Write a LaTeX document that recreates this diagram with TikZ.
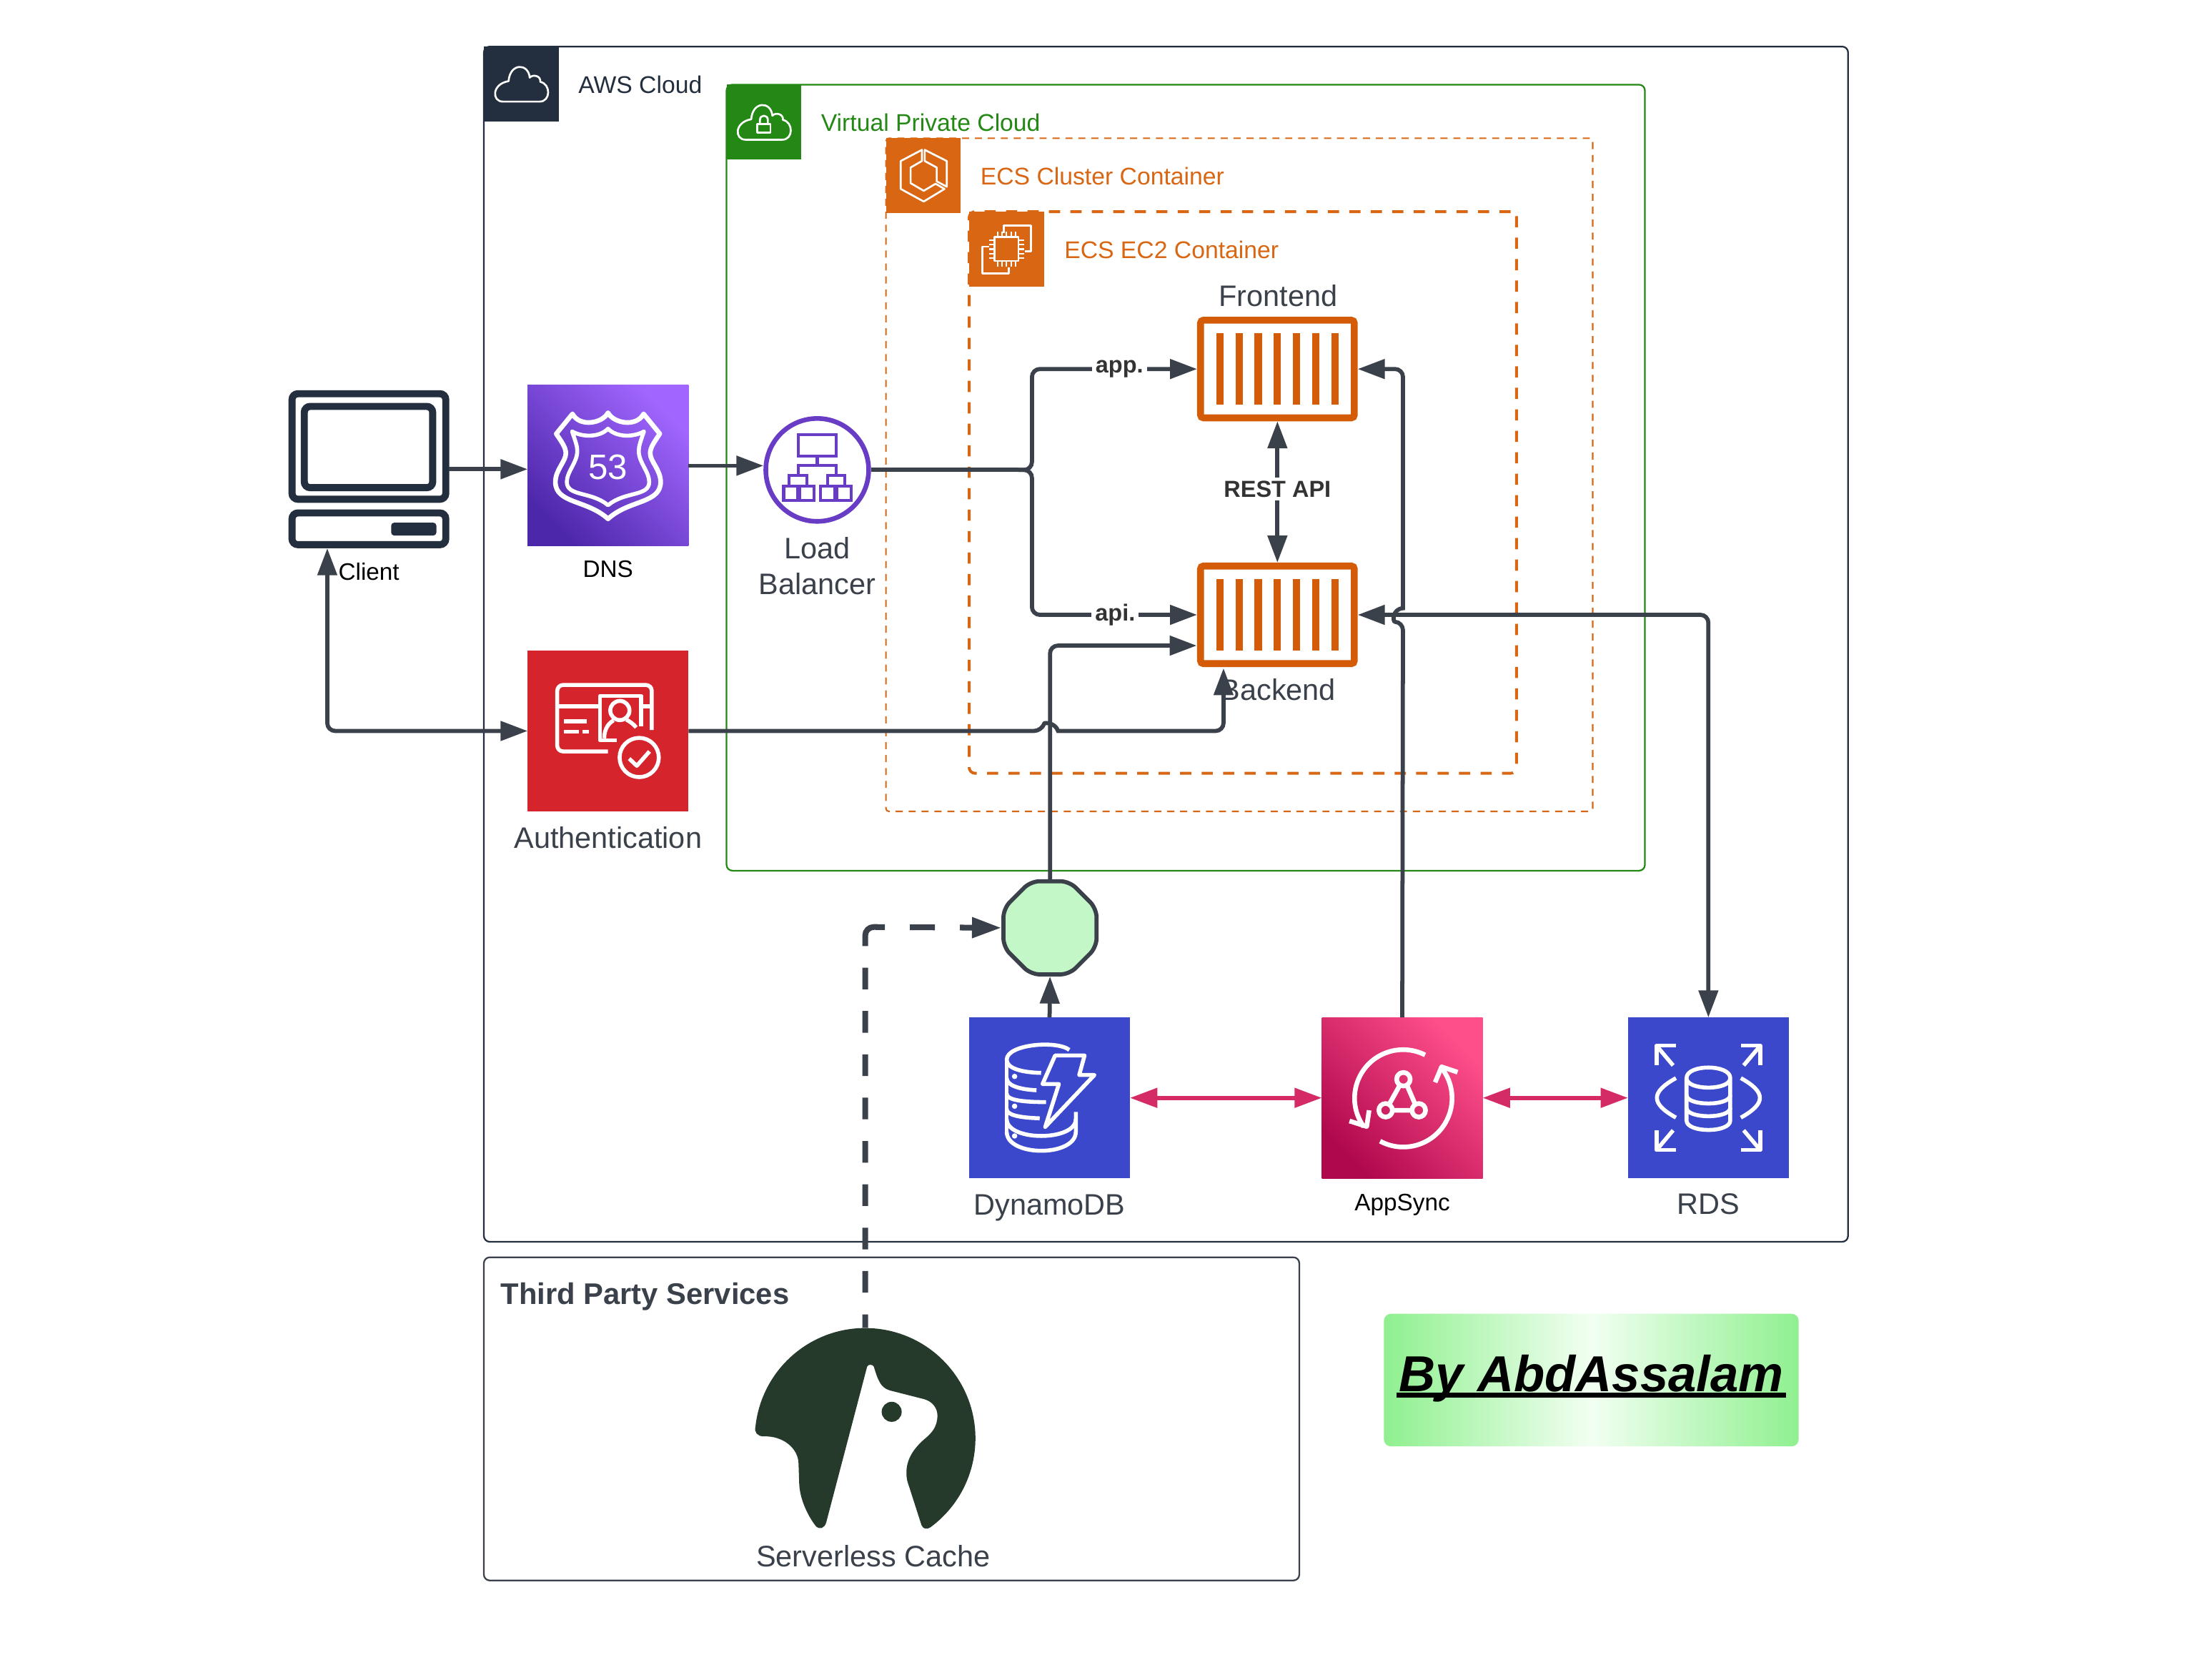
\documentclass[tikz,border=0pt]{standalone}
\usepackage{fontspec}
\setmainfont{Liberation Sans}
\usetikzlibrary{arrows.meta,shapes.geometric}
\definecolor{ink}{HTML}{3A414A}
\definecolor{awsdark}{HTML}{232F3E}
\definecolor{vpcg}{HTML}{248814}
\definecolor{ecso}{HTML}{D86613}
\definecolor{cono}{HTML}{D45B07}
\definecolor{lbp}{HTML}{693CC5}
\definecolor{dbblue}{HTML}{3B48CC}
\definecolor{authred}{HTML}{D6242D}
\definecolor{pinkline}{HTML}{D42B66}
\definecolor{octg}{HTML}{C3F7C8}
\definecolor{logog}{HTML}{253A2B}
\definecolor{byg}{HTML}{8FF08F}
\definecolor{byw}{HTML}{F2FFF2}
\definecolor{dnshi}{HTML}{A166FF}
\definecolor{dnslo}{HTML}{4D27AA}
\definecolor{synchi}{HTML}{FF4F8B}
\definecolor{synclo}{HTML}{B0084D}
\definecolor{boldink}{HTML}{333333}
\tikzset{
 sz/.style 2 args={minimum width=#1*0.48pt,minimum height=#2*0.48pt},
 lab/.style={inner sep=0,outer sep=0,font=\fontsize{10.08pt}{12.2pt}\selectfont,text=ink,align=center},
 smalllab/.style={inner sep=0,outer sep=0,font=\fontsize{8.1pt}{10pt}\selectfont,text=black},
 grouplab/.style={inner sep=0,outer sep=0,anchor=west,font=\fontsize{8.2pt}{10pt}\selectfont},
 boldlab/.style={inner sep=1.2pt,outer sep=0,fill=white,font=\fontsize{7.9pt}{10pt}\bfseries\selectfont,text=boldink},
 group/.style={draw,rounded corners=2pt,inner sep=0,outer sep=0},
 gtile/.style={inner sep=0,outer sep=0,minimum size=25.44pt},
 tile/.style={inner sep=0,outer sep=0,minimum size=54.72pt},
 ico/.style={draw=white,line width=1.35pt,line join=round},
 thinico/.style={draw=white,line width=0.65pt,line join=round},
 box/.style={draw=cono,fill=white,line width=2.35pt,rounded corners=1pt,inner sep=0,minimum width=52.3pt,minimum height=33.2pt},
 bar/.style={fill=cono},
 conn/.style={draw=ink,line width=1.4pt,rounded corners=2.7pt,-{Triangle[length=9.2pt,width=6.5pt]}},
 conn2/.style={draw=ink,line width=1.4pt,rounded corners=2.7pt,{Triangle[length=9.2pt,width=6.5pt]}-{Triangle[length=9.2pt,width=6.5pt]}},
 pink/.style={draw=pinkline,line width=1.4pt,{Triangle[length=9.3pt,width=6.5pt]}-{Triangle[length=9.3pt,width=6.5pt]}},
 comp/.style={draw=awsdark,fill=white,line width=2.4pt,rounded corners=2pt},
}
\newcommand{\cloudicon}[1][ico]{\draw[#1] (-13,12.5) -- (13,12.5) .. controls (21,12.5) and (21,0) .. (13.5,-1.5) .. controls (14,-6) and (8,-7) .. (6,-4.5) .. controls (5,-15) and (-8,-15) .. (-9,-2) .. controls (-21,0) and (-21,12.5) .. (-13,12.5) -- cycle;}
\newcommand{\bars}{\foreach \dx in {-40.8,-27.2,-13.6,0,13.6,27.2,40.8}{\fill[bar] (\dx-2.6,-25.3) rectangle (\dx+2.6,25.3);}}
\begin{document}
\begin{tikzpicture}[x=0.48pt,y=-0.48pt]
\useasboundingbox (0,0) rectangle (1568,1175.9);
\fill[white] (0,0) rectangle (1568,1175.9);
% groups
\node[group,draw=awsdark,line width=0.55pt,sz={967}{847}] (aws) at (826.5,456.5) {};
\node[group,draw=vpcg,line width=0.55pt,sz={651}{557}] (vpc) at (840.5,338.5) {};
\node[group,draw=ecso,line width=0.5pt,dash pattern=on 2.4pt off 2pt,sz={501}{477},rounded corners=1pt] (cluster) at (878.5,336.5) {};
\node[group,draw=ecso,line width=0.95pt,dash pattern=on 3.8pt off 3.5pt,sz={388}{398}] (ec2) at (881,349) {};
\node[group,draw=ink,line width=0.55pt,sz={578}{229}] (third) at (632,1005.5) {};
% group tiles
\node[gtile,fill=awsdark] (awstile) at (369.5,59.5) {};
\node[gtile,fill=vpcg] (vpctile) at (541.5,86.5) {};
\node[gtile,fill=ecso] (clustertile) at (654.5,124.5) {};
\node[gtile,fill=ecso] (ec2tile) at (713.5,176.5) {};
\begin{scope}[shift={(awstile.center)}]
 \cloudicon[thinico]
\end{scope}
\begin{scope}[shift={(vpctile.center)}]
 \cloudicon[thinico]
 \draw[thinico] (-4.6,1.4) rectangle (4.6,7.5);
 \draw[thinico] (-2.8,1.4) -- (-2.8,-1.5) .. controls (-2.8,-5.5) and (2.8,-5.5) .. (2.8,-1.5) -- (2.8,1.4);
\end{scope}
\begin{scope}[shift={(clustertile.center)}]
 \draw[thinico] (-1,-18.3) -- (-16,-10.4) -- (-16,9.4) -- (0.3,18.3) -- (15,9.4) -- (8.7,5.7) -- (0.3,10.7) -- (-9,5.3) -- (-9,-5.8) -- (-1,-10.4) -- cycle;
 \draw[thinico] (1,-18.3) -- (16.6,-10.4) -- (16.6,7.8) -- (9.5,4) -- (9.5,-5.8) -- (1,-10.4) -- cycle;
\end{scope}
\begin{scope}[shift={(ec2tile.center)}]
 \draw[thinico] (-8.5,-8.5) rectangle (8.4,8.4);
 \foreach \t in {-6.4,-3.2,0,3.2,6.4}{
  \draw[white,line width=0.55pt] (\t,-8.5) -- (\t,-12.4) (\t,8.4) -- (\t,12.4);
  \draw[white,line width=0.55pt] (-8.5,\t) -- (-12.4,\t) (8.4,\t) -- (12.4,\t);
 }
 \draw[thinico] (-1.8,-11.4) -- (-1.8,-16.8) -- (17.3,-16.8) -- (17.3,1.6) -- (12.8,1.6);
 \draw[thinico] (-12.4,-1.8) -- (-17,-1.8) -- (-17,17.3) -- (1.6,17.3) -- (1.6,12.8);
\end{scope}
% group labels
\node[grouplab,text=awsdark] (awslab) at (410,60) {AWS Cloud};
\node[grouplab,text=vpcg] (vpclab) at (582,87) {Virtual Private Cloud};
\node[grouplab,text=ecso] (clusterlab) at (695,125) {ECS Cluster Container};
\node[grouplab,text=ecso] (ec2lab) at (754.5,177) {ECS EC2 Container};
\node[inner sep=0,outer sep=0,anchor=west,font=\fontsize{10.15pt}{12pt}\bfseries\selectfont,text=ink] (thirdlab) at (355,919) {Third Party Services};
% client computer
\node[inner sep=0,outer sep=0,sz={113.7}{112}] (client) at (261.5,332.5) {};
\draw[comp] (207,279) rectangle (316,353.8);
\draw[comp] (215.7,288) rectangle (306.7,345.6);
\draw[comp] (207,363.5) rectangle (316,386);
\fill[awsdark,rounded corners=1pt] (277.3,370.4) rectangle (309.3,379.5);
\node[smalllab] (clientlab) at (261.5,405.3) {Client};
% dns
\node[tile,top color=dnshi,bottom color=dnslo,shading angle=-45] (dns) at (431,330) {};
\begin{scope}[shift={(dns.center)}]
 \draw[ico,line width=1.6pt] (0,-37.5) .. controls (-4,-30) and (-20,-27) .. (-25.2,-36.7) -- (-36.7,-22.6) .. controls (-33,-17) and (-29.9,-13) .. (-29.9,-8.8) .. controls (-29.9,-3) and (-37.3,3) .. (-37.3,11.5) .. controls (-37.3,27) and (-15,24) .. (0,37.7) .. controls (15,24) and (37.3,27) .. (37.3,11.5) .. controls (37.3,3) and (29.9,-3) .. (29.9,-8.8) .. controls (29.9,-13) and (33,-17) .. (36.7,-22.6) -- (25.2,-36.7) .. controls (20,-27) and (4,-30) .. (0,-37.5) -- cycle;
 \draw[ico] (0,-26.2) .. controls (-6,-20) and (-18,-20) .. (-25.5,-24.3) .. controls (-23,-17) and (-21.8,-14) .. (-21.8,-10.5) .. controls (-21.8,-2) and (-29.2,4) .. (-29.2,11.5) .. controls (-29.2,22) and (-12,18) .. (0,28) .. controls (12,18) and (29.2,22) .. (29.2,11.5) .. controls (29.2,4) and (21.8,-2) .. (21.8,-10.5) .. controls (21.8,-14) and (23,-17) .. (25.5,-24.3) .. controls (18,-20) and (6,-20) .. (0,-26.2) -- cycle;
 \node[inner sep=0,font=\fontsize{12pt}{12pt}\selectfont,text=white] (fiftythree) at (0,1) {53};
\end{scope}
\node[smalllab] (dnslab) at (431,403.3) {DNS};
% load balancer
\node[circle,draw=lbp,fill=white,line width=1.6pt,minimum size=35pt,inner sep=0] (lb) at (579.3,333) {};
\begin{scope}[shift={(lb.center)},line width=1pt]
 \draw[lbp] (-13.4,-24.9) rectangle (13.4,-9.7);
 \draw[lbp] (0,-9.7) -- (0,-3.4) (-13.4,3.8) -- (-13.4,-3.4) -- (13.4,-3.4) -- (13.4,3.8);
 \draw[lbp] (-19.8,11.3) -- (-19.8,3.8) -- (-7.3,3.8) -- (-7.3,11.3);
 \draw[lbp] (7.4,11.3) -- (7.4,3.8) -- (19.5,3.8) -- (19.5,11.3);
 \draw[lbp] (-23.8,11.3) rectangle (-14,21.5) (-12.2,11.3) rectangle (-2.3,21.5) (2.3,11.3) rectangle (12.5,21.5) (14,11.3) rectangle (24.1,21.5);
\end{scope}
\node[lab] (lblab) at (579.3,401) {Load\\Balancer};
% auth
\node[tile,fill=authred] (auth) at (431,518) {};
\begin{scope}[shift={(auth.center)}]
 \draw[ico,rounded corners=2pt] (0,14.5) -- (-36,14.5) -- (-36,-32.6) -- (31,-32.6) -- (31,-0.7);
 \draw[ico] (-36,-17.6) -- (-6,-17.6);
 \draw[ico] (25,-17.6) -- (31,-17.6);
 \draw[ico] (6.3,6.6) -- (-5.6,6.6) -- (-5.6,-24.8) -- (23.5,-24.8) -- (23.5,-3.2);
 \draw[ico] (8.4,-14.5) circle (6.8);
 \draw[ico] (-2.7,5.2) .. controls (-2.7,-2) and (1,-6) .. (4,-7.5);
 \draw[ico] (13,-8) .. controls (15,-7) and (18,-5) .. (20,-2.5);
 \draw[ico] (22.1,18.8) circle (13.9);
 \draw[ico] (15,19.6) -- (20.4,24.7) -- (29.4,14.5);
 \draw[ico] (-31.4,-6.9) -- (-15,-6.9) (-31.4,0.5) -- (-20.8,0.5) (-18,0.5) -- (-13.3,0.5);
\end{scope}
\node[lab] (authlab) at (431,593.5) {Authentication};
% containers
\node[box] (frontend) at (905.5,261.5) {};
\begin{scope}[shift={(frontend.center)}]\bars\end{scope}
\node[box] (backend) at (905.5,435.7) {};
\begin{scope}[shift={(backend.center)}]\bars\end{scope}
\node[lab] (frontlab) at (906,209.8) {Frontend};
\node[lab] (backlab) at (906,488.7) {Backend};
% lower services
\node[regular polygon,regular polygon sides=8,draw=ink,fill=octg,line width=1.4pt,rounded corners=3pt,minimum size=34.3pt,inner sep=0] (oct) at (744.3,657.5) {};
\node[tile,fill=dbblue] (dynamo) at (744,778) {};
\begin{scope}[shift={(dynamo.center)}]
 \draw[ico] (14,-34) .. controls (5,-41) and (-30.4,-38) .. (-30.4,-27) .. controls (-30.4,-21) and (-20,-18) .. (-6,-17.7);
 \draw[ico] (-30.4,-27) -- (-30.4,26);
 \draw[ico] (-30.4,-14) .. controls (-30.4,-9) and (-22,-6) .. (-9.3,-5.4);
 \draw[ico] (-30.4,-3) .. controls (-30.4,1) and (-22,3) .. (-2.5,3);
 \draw[ico] (-30.4,8) .. controls (-30.4,12) and (-22,14) .. (-7,14.5);
 \draw[ico] (-30.4,24) .. controls (-30.4,42) and (18.6,42) .. (18.6,24) -- (18.6,10);
 \draw[ico] (-30.4,15) .. controls (-30.4,31) and (18.6,31) .. (18.6,15);
 \fill[white] (-24.8,-15.2) circle (1.9) (-24.8,5.9) circle (1.9) (-24.8,27) circle (1.9);
 \draw[ico,fill=dbblue] (3.9,-30) -- (24.8,-30) -- (21,-16.2) -- (31.8,-16.2) -- (-3.1,20.6) -- (6.6,-9.8) -- (-5,-9.8) -- cycle;
\end{scope}
\node[lab] (dynamolab) at (744,855.7) {DynamoDB};
\node[tile,top color=synchi,bottom color=synclo,shading angle=-45] (appsync) at (994,778) {};
\begin{scope}[shift={(appsync.center)}]
 \draw[ico,line width=1.6pt] (16.2,-30.4) arc[start angle=-63,end angle=-216,radius=34.4];
 \draw[ico,line width=1.6pt] (-37.4,16.4) -- (-25.2,20.3) -- (-23.5,8.8);
 \draw[ico,line width=1.6pt] (-15.7,30.7) arc[start angle=118.3,end angle=-39,radius=34.6];
 \draw[ico,line width=1.6pt] (23.3,-11) -- (27.9,-22) -- (39.2,-18.2);
 \draw[ico,line width=1.6pt] (0.8,-13.2) circle (4.8) (-11.8,8.8) circle (4.8) (11.7,8.8) circle (4.8);
 \draw[ico,line width=1.6pt] (-1.7,-9) -- (-9.3,4.6) (3.3,-9) -- (9.2,4.6) (-7,8.8) -- (6.9,8.8);
\end{scope}
\node[smalllab] (appsynclab) at (994,853.6) {AppSync};
\node[tile,fill=dbblue] (rds) at (1211,778) {};
\begin{scope}[shift={(rds.center)}]
 \draw[ico] (-15.5,-14) .. controls (-15.5,-24) and (15.5,-24) .. (15.5,-14) .. controls (15.5,-5) and (-15.5,-5) .. (-15.5,-14) -- (-15.5,16) .. controls (-15.5,25) and (15.5,25) .. (15.5,16) -- (15.5,-14);
 \draw[ico] (-15.5,-2) .. controls (-15.5,6) and (15.5,6) .. (15.5,-2);
 \draw[ico] (-15.5,7) .. controls (-15.5,15) and (15.5,15) .. (15.5,7);
 \draw[ico] (-23,-14) .. controls (-41,-4) and (-41,4) .. (-23,14);
 \draw[ico] (23,-14) .. controls (41,-4) and (41,4) .. (23,14);
 \foreach \sx/\sy in {1/1,-1/1,1/-1,-1/-1}{
  \begin{scope}[xscale=\sx,yscale=\sy]
   \draw[ico] (23,-37) -- (36.8,-37) -- (36.8,-23);
   \draw[ico] (36.8,-37) -- (25,-23);
  \end{scope}
 }
\end{scope}
\node[lab] (rdslab) at (1211,853.5) {RDS};
% connectors
\coordinate (clientport) at (232,388.5);
\coordinate (backbottom) at (867.3,473.5);
\coordinate (backleft) at (848.3,457.5);
\coordinate (split) at (722,333);
\draw[conn] (client.east) -- (client.east -| dns.west);
\draw[conn] (dns.east) -- (dns.east -| lb.west);
\draw[conn2] (clientport) -- (232,518) -- (auth.west);
\draw[conn] (auth.east) -- (738.5,518) [sharp corners] .. controls (740.5,512) and (748,512) .. (750,518) [rounded corners=2.7pt] -- (867.3,518) -- (backbottom);
\draw[conn,-] (lb.east) -- (split);
\draw[conn] (split) -- (731.5,333) -- (731.5,435.7) -- (backend.west);
\draw[conn] (split) -- (731.5,333) -- (731.5,261.5) -- (frontend.west);
\draw[conn] (oct.north) -- (744.3,457.5) -- (backleft);
\draw[conn] (dynamo.north) -- (oct.south);
\draw[conn2] (frontend.south) -- (backend.north);
\draw[conn] (appsync.north) -- (994.5,441) [sharp corners] .. controls (987,440.5) and (987,431.5) .. (994.5,431) [rounded corners=2.7pt] -- (994.5,261.5) -- (frontend.east);
\draw[conn2] (rds.north) -- (1211,435.7) -- (backend.east);
\draw[pink] (dynamo.east) -- (appsync.west);
\draw[pink] (appsync.east) -- (rds.west);
\node[boldlab] (applab) at (793.5,261.5) {app.};
\node[boldlab] (apilab) at (790.5,435.5) {api.};
\node[boldlab] (restlab) at (905.5,346.5) {REST API};
% third party
\coordinate (logotop) at (613.3,941);
\draw[draw=ink,line width=1.95pt,rounded corners=2.9pt,-{Triangle[length=10pt,width=6.7pt]},dash pattern=on 4.6pt off 7.37pt on 7.37pt off 7.37pt on 7.37pt off 7.37pt on 7.37pt off 7.37pt on 7.37pt off 7.37pt on 7.37pt off 7.37pt on 7.37pt off 7.37pt on 7.37pt off 7.37pt on 7.37pt off 7.37pt on 11.9pt off 8.5pt on 8.5pt off 8.5pt on 30pt off 1pt] (logotop) -- (613.3,656.9) -- (oct.west);
\begin{scope}[shift={(506.6,932.1)},x=0.08105pt,y=-0.08105pt]
 \fill[logog] (905,890) arc[start angle=53.8,end angle=-174.1,radius=463]
  .. controls (165,490) and (180,508) .. (205,508)
  .. controls (290,505) and (350,560) .. (352,620)
  -- (355,710)
  .. controls (360,790) and (405,860) .. (425,885)
  .. controls (440,900) and (460,895) .. (468,870)
  -- (640,215)
  .. controls (644,205) and (663,205) .. (668,215)
  .. controls (685,270) and (695,303) .. (735,315)
  -- (880,352)
  .. controls (915,362) and (935,390) .. (935,420)
  .. controls (935,470) and (910,495) .. (880,520)
  .. controls (840,555) and (805,600) .. (805,660)
  .. controls (805,685) and (808,695) .. (815,715)
  -- (868,880)
  .. controls (875,897) and (890,900) .. (905,890) -- cycle;
 \fill[logog] (743,405) circle (42);
\end{scope}
\node[lab] (cachelab) at (619,1102.5) {Serverless Cache};
% signature
\node[draw=none,left color=byg,right color=byg,middle color=byw,rounded corners=2.4pt,sz={294}{94},inner sep=0,outer sep=0] (sign) at (1128,978) {};
\node[inner sep=0,outer sep=0,font=\fontsize{17.2pt}{20pt}\bfseries\itshape\selectfont,text=black] (signtext) at (1128,977) {By AbdAssalam};
\draw[black,line width=1.65pt] (989.7,988.6) -- (1266,988.6);
\end{tikzpicture}
\end{document}
